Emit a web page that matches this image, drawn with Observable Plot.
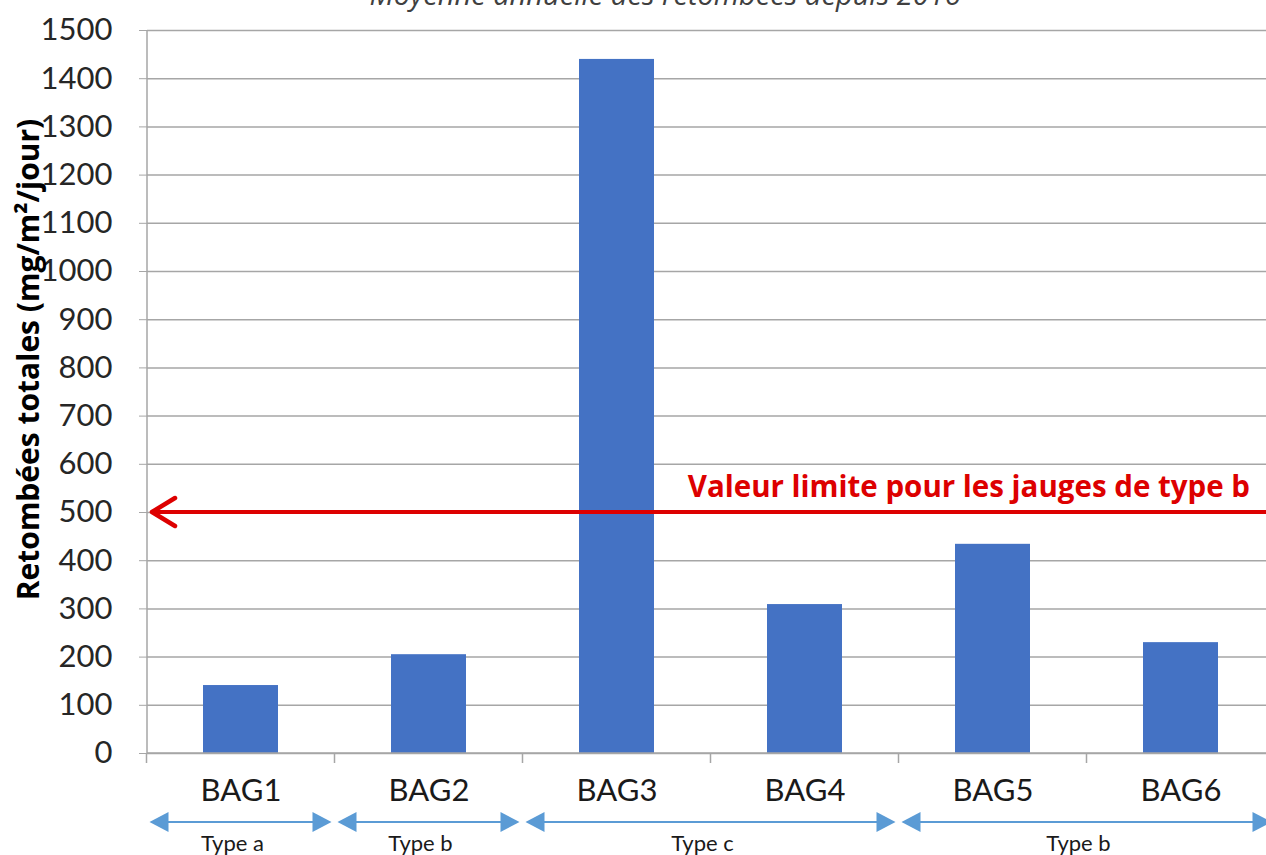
<!DOCTYPE html>
<html><head><meta charset="utf-8">
<script src="https://cdn.jsdelivr.net/npm/d3@7"></script>
<script src="https://cdn.jsdelivr.net/npm/@observablehq/plot@0.6"></script>
<style>
html,body{margin:0;padding:0;background:#fff;overflow:hidden;width:1266px;height:855px}
#chart svg{display:block;overflow:visible;max-width:none !important;width:1280px !important;height:855px !important}
</style></head><body><div id="chart"></div>
<script>
const categories = ["BAG1","BAG2","BAG3","BAG4","BAG5","BAG6"];
const values = [141, 205, 1440, 309, 434, 230];
const yTicks = [0,100,200,300,400,500,600,700,800,900,1000,1100,1200,1300,1400,1500];
const limitValue = 500;
const limitLabel = "Valeur limite pour les jauges de type b";
const typeLabels = ["Type a","Type b","Type c","Type b"];
const typeStart = ["BAG1","BAG2","BAG3","BAG5"];
const typeEnd = ["BAG1","BAG2","BAG4","BAG6"];
const title = "Moyenne annuelle des retombées depuis 2016";
const yLabel = "Retombées totales (mg/m²/jour)";

const data = categories.map((c, i) => ({cat: c, value: values[i]}));
const groups = typeLabels.map((t, i) => ({label: t, from: typeStart[i], to: typeEnd[i]}));

const gray = "#a6a6a6", red = "#dd0000", blue = "#5b9bd5";
const font = "Lato, 'Open Sans', sans-serif";
const boldFont = "'Open Sans', Lato, sans-serif";

function extras(index, scales, values, dims) {
  const x = scales.x, y = scales.y;
  const ns = "http://www.w3.org/2000/svg";
  const g = d3.select(document.createElementNS(ns, "g"));
  const step = x(categories[1]) - x(categories[0]);
  const bw = typeof x.bandwidth === "function" ? x.bandwidth() : step * 0.4;
  const bound = c => x(c) + bw / 2 - step / 2;
  const left = dims.marginLeft, right = dims.width - dims.marginRight;
  const y0 = y(0), yTop = y(yTicks[yTicks.length - 1]);
  // axis lines
  g.append("line").attr("x1", left).attr("x2", right).attr("y1", y0).attr("y2", y0)
    .attr("stroke", gray).attr("stroke-width", 1.5);
  g.append("line").attr("x1", left).attr("x2", left).attr("y1", yTop).attr("y2", y0)
    .attr("stroke", gray).attr("stroke-width", 1.5);
  // category boundary ticks
  for (let i = 0; i <= categories.length; i++) {
    const bx = bound(categories[0]) + i * step;
    g.append("line").attr("x1", bx).attr("x2", bx).attr("y1", y0).attr("y2", y0 + 10)
      .attr("stroke", gray).attr("stroke-width", 1.5);
  }
  // type arrows
  const ya = y0 + 69;
  for (const gr of groups) {
    const x1 = bound(gr.from) + 3, x2 = bound(gr.to) + step - 3;
    g.append("line").attr("x1", x1 + 10).attr("x2", x2 - 10).attr("y1", ya).attr("y2", ya)
      .attr("stroke", blue).attr("stroke-width", 2);
    g.append("path").attr("d", `M${x1},${ya}L${x1 + 19},${ya - 10}L${x1 + 19},${ya + 10}Z`).attr("fill", blue);
    g.append("path").attr("d", `M${x2},${ya}L${x2 - 19},${ya - 10}L${x2 - 19},${ya + 10}Z`).attr("fill", blue);
    g.append("text").attr("x", (x1 + x2) / 2 - 8).attr("y", ya + 21).attr("dy", "0.35em")
      .attr("text-anchor", "middle").attr("font-size", 22).attr("fill", "#1a1a1a")
      .attr("font-family", font).text(gr.label);
  }
  // limit line
  const yl = y(limitValue);
  g.append("line").attr("x1", left + 4).attr("x2", dims.width).attr("y1", yl).attr("y2", yl)
    .attr("stroke", red).attr("stroke-width", 4);
  g.append("path").attr("d", `M${left + 28},${yl - 14}L${left + 5},${yl}L${left + 28},${yl + 14}`)
    .attr("fill", "none").attr("stroke", red).attr("stroke-width", 4.5)
    .attr("stroke-linecap", "round").attr("stroke-linejoin", "round");
  g.append("text").attr("x", 1250).attr("y", yl - 25).attr("dy", "0.35em")
    .attr("text-anchor", "end").attr("font-size", 29.5).attr("font-weight", "bold")
    .attr("fill", red).attr("font-family", boldFont).text(limitLabel);
  // y label
  g.append("text").attr("transform", `translate(28,${(y0 + yTop) / 2 - 32}) rotate(-90)`)
    .attr("dy", "0.35em").attr("text-anchor", "middle").attr("font-size", 30)
    .attr("font-weight", "bold").attr("fill", "#000").attr("font-family", boldFont).text(yLabel);
  // title (cut at top, as in the reference)
  g.append("text").attr("x", 665).attr("y", 5).attr("text-anchor", "middle")
    .attr("font-size", 29).attr("font-style", "italic").attr("fill", "#404040")
    .attr("font-family", boldFont).text(title);
  return g.node();
}

const plot = Plot.plot({
  width: 1280, height: 855,
  marginLeft: 147, marginRight: 5, marginTop: 30, marginBottom: 102,
  style: {fontFamily: font, background: "#fff", overflow: "visible"},
  x: {domain: categories, paddingInner: 0.6, paddingOuter: 0.3, axis: null},
  y: {domain: [0, 1500], axis: null},
  marks: [
    Plot.gridY(yTicks, {stroke: gray, strokeOpacity: 1, strokeWidth: 1.5}),
    Plot.barY(data, {x: "cat", y: "value", fill: "#4472c4"}),
    Plot.axisY(yTicks, {tickSize: 8, tickPadding: 27, fontSize: 31, stroke: gray, strokeOpacity: 1, fill: "#262626", label: null, tickFormat: d => String(d)}),
    Plot.text(data, {x: "cat", text: "cat", frameAnchor: "bottom", dy: 47, fontSize: 31, fill: "#1a1a1a"}),
    extras
  ]
});
document.getElementById("chart").append(plot);
</script></body></html>
